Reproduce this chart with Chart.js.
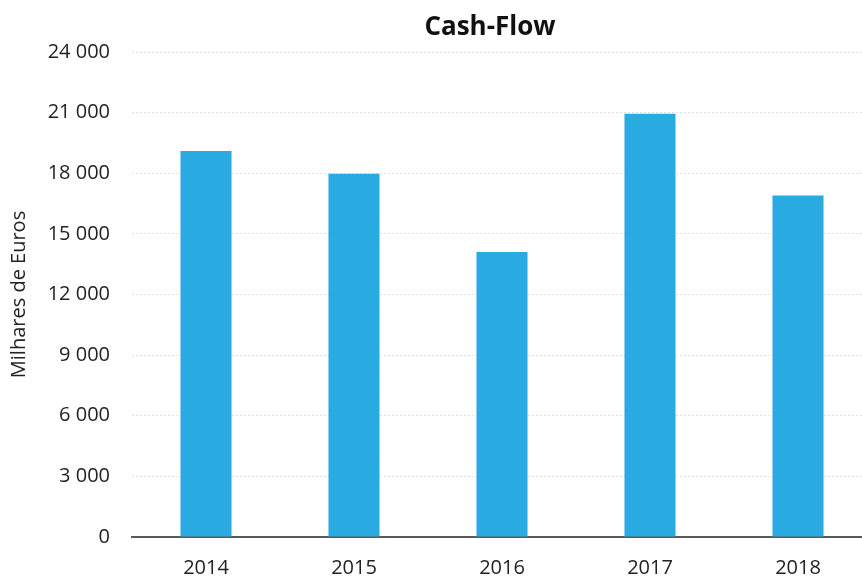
<!DOCTYPE html>
<html>
<head>
    <meta charset="UTF-8">
    <title>Cash-Flow</title>
    <script src="https://cdn.jsdelivr.net/npm/chart.js"></script>
    <style>
        html, body { margin: 0; padding: 0; background: #fff; overflow: hidden; }
    </style>
</head>
<body>
    <canvas id="cashFlowChart" width="980" height="579"></canvas>

    <script>
        // yearly cash-flow, thousands of euros
        var years = ['2014', '2015', '2016', '2017', '2018'];
        var cashFlow = [19100, 17980, 14100, 20950, 16900];
        var yTicks = [0, 3000, 6000, 9000, 12000, 15000, 18000, 21000, 24000];

        var FONT = '"Open Sans", "Liberation Sans", sans-serif';

        function fmtThousands(v) {
            return String(v).replace(/\B(?=(\d{3})+(?!\d))/g, ' ');
        }

        // chart title, placed at a fixed centre instead of the canvas centre
        var headline = {
            id: 'headline',
            afterDraw: function (chart) {
                var c = chart.ctx;
                c.save();
                c.font = 'bold 26px ' + FONT;
                c.fillStyle = '#111';
                c.textAlign = 'center';
                c.textBaseline = 'middle';
                c.fillText('Cash-Flow', 490, 28);
                c.restore();
            }
        };

        var ctx = document.getElementById('cashFlowChart').getContext('2d');
        var chart = new Chart(ctx, {
            type: 'bar',
            data: {
                labels: years,
                datasets: [{
                    label: 'Cash-Flow',
                    data: cashFlow,
                    backgroundColor: '#29abe2',
                    borderWidth: 0,
                    barPercentage: 0.345,
                    categoryPercentage: 1
                }]
            },
            plugins: [headline],
            options: {
                responsive: false,
                animation: false,
                devicePixelRatio: 1,
                layout: { padding: { top: 52, right: 108, bottom: 0, left: 0 } },
                plugins: {
                    legend: { display: false },
                    tooltip: { enabled: false },
                    title: { display: false }
                },
                scales: {
                    x: {
                        afterFit: function (axis) {
                            axis.height = 42;
                        },
                        grid: { display: false, drawTicks: false },
                        border: { display: true, color: '#5a5a5a', width: 2 },
                        ticks: {
                            color: '#222',
                            padding: 19,
                            font: { family: FONT, size: 20 }
                        }
                    },
                    y: {
                        min: 0,
                        max: 24000,
                        afterBuildTicks: function (axis) {
                            axis.ticks = yTicks.map(function (v) { return { value: v }; });
                        },
                        afterFit: function (axis) {
                            axis.width = 132;
                        },
                        grid: {
                            color: '#d6e4ec',
                            lineWidth: 1,
                            drawTicks: false
                        },
                        border: { display: false, dash: [2, 2] },
                        ticks: {
                            color: '#222',
                            padding: 22,
                            font: { family: FONT, size: 20 },
                            callback: function (v) { return fmtThousands(v); }
                        },
                        title: {
                            display: true,
                            text: 'Milhares de Euros',
                            color: '#222',
                            font: { family: FONT, size: 20 },
                            padding: { top: 7, bottom: 0 }
                        }
                    }
                }
            }
        });
    </script>
</body>
</html>
